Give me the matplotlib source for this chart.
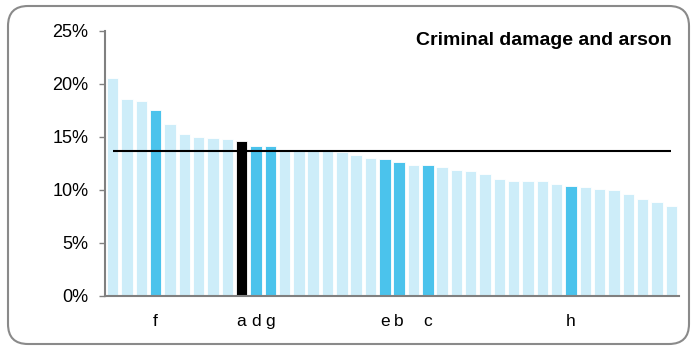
import matplotlib.pyplot as plt
from matplotlib.patches import FancyBboxPatch
import numpy as np

plt.rcParams['font.family'] = ['Liberation Sans', 'DejaVu Sans']

# Values (share, %)
values = [20.55, 18.55, 18.36, 17.58, 16.23, 15.32, 15.0, 14.94, 14.82, 14.66,
          14.1, 14.1, 13.79, 13.7, 13.7, 13.68, 13.56, 13.25, 13.03, 12.88,
          12.66, 12.38, 12.31, 12.19, 11.84, 11.78, 11.47, 11.03, 10.87, 10.87,
          10.81, 10.56, 10.34, 10.28, 10.09, 9.96, 9.62, 9.12, 8.83, 8.46]
# index of highlighted bars and their labels
highlight_idx = [3, 9, 10, 11, 19, 20, 22, 32]
highlight_lab = ['f', 'a', 'd', 'g', 'e', 'b', 'c', 'h']
selected_idx = 9
average = 13.63
title = 'Criminal damage and arson'

light = '#CDEDF9'
blue = '#4BC3EC'

colors = [light] * len(values)
for i in highlight_idx:
    colors[i] = blue
colors[selected_idx] = 'black'

fig = plt.figure(figsize=(6.95, 3.47), dpi=100)
ax = fig.add_axes([0.151, 0.147, 0.826, 0.764])

x = np.arange(len(values))
ax.bar(x, np.array(values) / 100, width=0.8, color=colors, edgecolor='white', linewidth=0.6)
ax.hlines(average / 100, 0, len(values) - 1, color='black', linewidth=1.5, zorder=3)

ax.set_xlim(-0.54, len(values) - 0.46)
ax.set_ylim(0, 0.25)
ax.set_yticks(np.arange(0, 0.26, 0.05))
ax.set_yticklabels(['0%', '5%', '10%', '15%', '20%', '25%'], fontsize=13)
ax.set_xticks(highlight_idx)
ax.set_xticklabels(highlight_lab, fontsize=12.5)
ax.tick_params(axis='x', length=0, pad=13)
ax.tick_params(axis='y', length=4, color='#808080', width=1, pad=8)

for s in ['top', 'right']:
    ax.spines[s].set_visible(False)
for s in ['left', 'bottom']:
    ax.spines[s].set_color('#808080')
    ax.spines[s].set_linewidth(1.5)

ax.text(0.988, 0.962, title, transform=ax.transAxes, ha='right', va='center',
        fontsize=14, fontweight='bold')

# rounded frame around whole figure (inch coordinates)
box = FancyBboxPatch((0.08, 0.03), 6.81, 3.38,
                     boxstyle='round,pad=0,rounding_size=0.2',
                     transform=fig.dpi_scale_trans, fill=False,
                     edgecolor='#8a8a8a', linewidth=1.5)
fig.patches.append(box)

fig.savefig('out.png', dpi=100)
